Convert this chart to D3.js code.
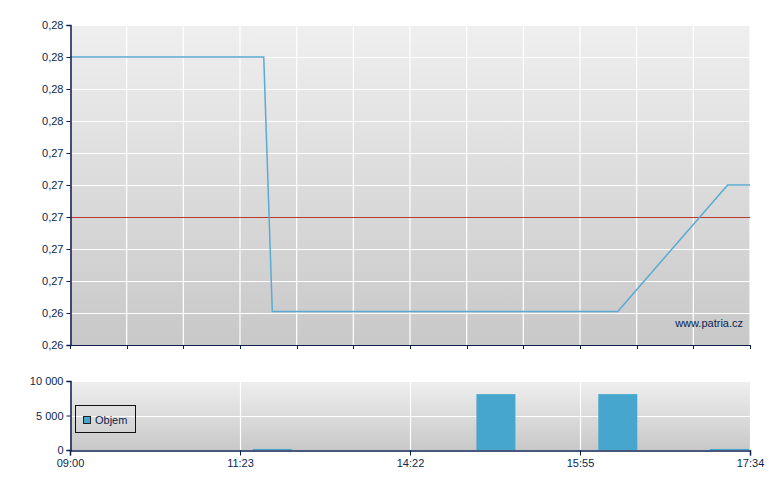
<!DOCTYPE html>
<html><head><meta charset="utf-8">
<script src="https://cdn.jsdelivr.net/npm/d3@7"></script>
<style>body{margin:0;background:#fff}svg{display:block}text{font-family:"Liberation Sans",Arial,sans-serif;font-size:11px;fill:#0b1f4f}</style>
</head><body><svg id="c" width="780" height="490"></svg>
<script>
// x-axis tick labels (index-like time axis, evenly spaced labels)
const xTickLabels = ["09:00","11:23","14:22","15:55","17:34"];
// price line
const priceTimes = ["09:00","11:48","11:57","16:17","17:21","17:34"];
const priceValues = [0.28,0.28,0.2641,0.2641,0.272,0.272];
const refPrice = 0.27;
// price axis ticks
const priceTicks = [0.262,0.264,0.266,0.268,0.270,0.272,0.274,0.276,0.278,0.280,0.282];
// volume bars
const volTimes = ["11:57","15:09","16:17","17:22"];
const volValues = [150,8100,8100,150];
const volTicks = [0,5000,10000];
const legendLabel = "Objem";
const watermark = "www.patria.cz";

const toMin = s => { const [h,m] = s.split(":").map(Number); return h*60+m; };
const svg = d3.select("#c");
const L = 70, R = 750, W = R - L;
const top1 = 25, bot1 = 345, top2 = 381, bot2 = 450;
const navy = "#0b1f4f", blue = "#47a6cd";

const x = d3.scaleLinear()
  .domain(xTickLabels.map(toMin))
  .range(xTickLabels.map((d,i) => L + i*W/(xTickLabels.length-1)));
const y = d3.scaleLinear().domain([0.262,0.282]).range([bot1, top1]);
const yv = d3.scaleLinear().domain([0,10000]).range([bot2, top2]);

const defs = svg.append("defs");
const g = defs.append("linearGradient").attr("id","bg").attr("x1",0).attr("y1",0).attr("x2",0).attr("y2",1);
g.append("stop").attr("offset","0%").attr("stop-color","#efefef");
g.append("stop").attr("offset","100%").attr("stop-color","#c8c8c8");

// ---- price panel
svg.append("rect").attr("x",L).attr("y",top1).attr("width",W).attr("height",bot1-top1).attr("fill","url(#bg)");
const vgrid = d3.range(13).map(i => L + i*W/12);
svg.append("g").selectAll("line").data(vgrid.slice(1)).join("line")
  .attr("x1",d=>d).attr("x2",d=>d).attr("y1",top1).attr("y2",bot1).attr("stroke","#fff").attr("stroke-width",1.2);
svg.append("g").selectAll("line").data(priceTicks).join("line")
  .attr("x1",L).attr("x2",R).attr("y1",d=>Math.round(y(d))+0.5).attr("y2",d=>Math.round(y(d))+0.5).attr("stroke","#fff").attr("stroke-width",1.2);
svg.append("line").attr("x1",L).attr("x2",R).attr("y1",Math.round(y(refPrice))+0.5).attr("y2",Math.round(y(refPrice))+0.5)
  .attr("stroke","#b8382e").attr("stroke-width",1);
svg.append("path").datum(priceTimes.map((t,i)=>[x(toMin(t)), y(priceValues[i])]))
  .attr("d", d3.line()).attr("fill","none").attr("stroke","#5aaad2").attr("stroke-width",1.5);
svg.append("text").attr("x",743).attr("y",327).attr("text-anchor","end").text(watermark);

const ay = d3.axisLeft(y).tickValues(priceTicks).tickSize(4).tickFormat(d => d3.format(".2f")(d).replace(".",","));
svg.append("g").attr("transform",`translate(${L+0.5},0)`).call(ay);
const axb = svg.append("g");
axb.append("line").attr("x1",L).attr("x2",R).attr("y1",bot1+0.5).attr("y2",bot1+0.5).attr("stroke",navy);
axb.selectAll("line.t").data(vgrid).join("line").attr("class","t")
  .attr("x1",d=>Math.round(d)+0.5).attr("x2",d=>Math.round(d)+0.5).attr("y1",bot1).attr("y2",bot1+4).attr("stroke",navy);

// ---- volume panel
svg.append("rect").attr("x",L).attr("y",top2).attr("width",W).attr("height",bot2-top2).attr("fill","url(#bg)");
svg.append("g").selectAll("line").data(xTickLabels.slice(1)).join("line")
  .attr("x1",d=>Math.round(x(toMin(d)))+0.5).attr("x2",d=>Math.round(x(toMin(d)))+0.5).attr("y1",top2).attr("y2",bot2).attr("stroke","#fff").attr("stroke-width",1.2);
svg.append("g").selectAll("line").data(volTicks.slice(1)).join("line")
  .attr("x1",L).attr("x2",R).attr("y1",d=>Math.round(yv(d))+0.5).attr("y2",d=>Math.round(yv(d))+0.5).attr("stroke","#fff").attr("stroke-width",1.2);
const bw = W*39/680;
svg.append("g").selectAll("rect").data(volTimes).join("rect")
  .attr("x",(d)=>Math.max(L, x(toMin(d)) - bw/2))
  .attr("width",(d)=>Math.min(R, x(toMin(d))+bw/2) - Math.max(L, x(toMin(d)) - bw/2))
  .attr("y",(d,i)=>yv(volValues[i])).attr("height",(d,i)=>bot2 - yv(volValues[i])).attr("fill",blue);

const fmtVol = d => d3.format(",")(d).replace(/,/g," ");
svg.append("g").attr("transform",`translate(${L+0.5},0)`).call(d3.axisLeft(yv).tickValues(volTicks).tickSize(4).tickFormat(fmtVol));
svg.append("g").attr("transform",`translate(0,${bot2+0.5})`)
  .call(d3.axisBottom(x).tickValues(xTickLabels.map(toMin)).tickSize(5).tickPadding(4)
    .tickFormat((d,i)=>xTickLabels[i]));

svg.selectAll(".domain").attr("stroke",navy).attr("stroke-width",1.5);
svg.selectAll(".tick line").attr("stroke",navy);
svg.selectAll(".tick text").attr("fill",navy).style("font-size","11px").style("font-family","'Liberation Sans',Arial,sans-serif");

// legend
const lg = svg.append("g");
lg.append("rect").attr("x",75.5).attr("y",405.5).attr("width",60).attr("height",27).attr("fill","none").attr("stroke","#111");
lg.append("rect").attr("x",83.5).attr("y",416.5).attr("width",7).attr("height",7).attr("fill",blue).attr("stroke","#222");
lg.append("text").attr("x",95).attr("y",424).text(legendLabel);
</script></body></html>
